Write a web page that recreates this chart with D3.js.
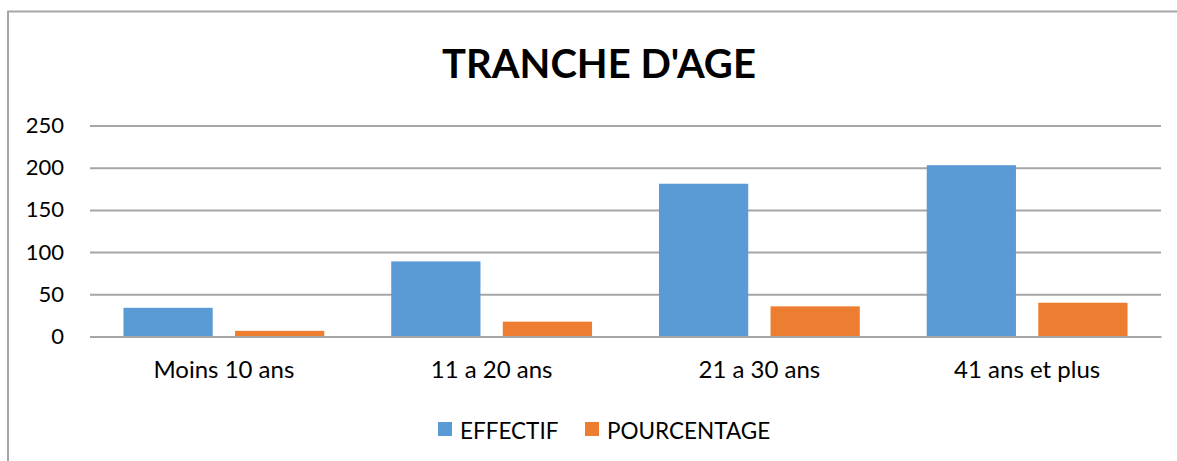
<!DOCTYPE html>
<html>
<head>
<meta charset="utf-8">
<script src="https://cdn.jsdelivr.net/npm/d3@7"></script>
<style>
  body { margin: 0; background: #fff; }
  svg { display: block; font-family: Lato, "Open Sans", sans-serif; }
</style>
</head>
<body>
<div class="app"></div>
<script>
'use strict'

// données
var categories = ["Moins 10 ans", "11 a 20 ans", "21 a 30 ans", "41 ans et plus"];
var seriesNames = ["EFFECTIF", "POURCENTAGE"];
var effectif = [34, 89, 181, 203];
var pourcentage = [6.7, 17.6, 35.7, 40.0];
var yTicks = [0, 50, 100, 150, 200, 250];
var colors = ["#5B9BD5", "#ED7D31"];

var W = 1177, H = 461;
var plot = { left: 90, right: 1161, top: 125.5, bottom: 336.5 };

var rows = categories.map(function(c, i) {
  return { cat: c, values: [effectif[i], pourcentage[i]] };
});

var svg = d3.select(".app").append("svg")
  .attr("width", W)
  .attr("height", H);

// cadre du graphique (haut + gauche)
svg.append("path")
  .attr("d", "M8,461 V11.5 H1177")
  .attr("fill", "none")
  .attr("stroke", "#a6a6a6")
  .attr("stroke-width", 2);

// titre
svg.append("text")
  .attr("x", 599)
  .attr("y", 78)
  .attr("text-anchor", "middle")
  .attr("font-size", 40)
  .attr("font-weight", "bold")
  .attr("fill", "#000")
  .text("TRANCHE D'AGE");

var x0 = d3.scaleBand().domain(categories).range([plot.left, plot.right]).padding(0);
var x1 = d3.scaleBand().domain(d3.range(seriesNames.length))
  .range([0, x0.bandwidth()]).paddingInner(0.2).paddingOuter(0.3);
var y = d3.scaleLinear().domain([0, 250]).range([plot.bottom, plot.top]);

// grille + axe Y
var yAxis = d3.axisLeft(y).tickValues(yTicks).tickSize(0).tickPadding(26);
var gy = svg.append("g")
  .attr("transform", "translate(" + plot.left + ",0)")
  .call(yAxis);
gy.select(".domain").remove();
gy.selectAll(".tick text")
  .attr("font-size", 22)
  .attr("font-family", "Lato, sans-serif")
  .attr("fill", "#000");
gy.selectAll(".tick").append("line")
  .attr("x1", 0)
  .attr("x2", plot.right - plot.left)
  .attr("stroke", "#a6a6a6")
  .attr("stroke-width", 2);

// barres
var groups = svg.append("g").selectAll("g")
  .data(rows)
  .join("g")
  .attr("transform", function(d) { return "translate(" + x0(d.cat) + ",0)"; });

groups.selectAll("rect")
  .data(function(d) { return d.values; })
  .join("rect")
  .attr("x", function(d, i) { return x1(i); })
  .attr("width", x1.bandwidth())
  .attr("y", function(d) { return y(d); })
  .attr("height", function(d) { return y(0) - y(d); })
  .attr("fill", function(d, i) { return colors[i]; });

// axe X
var xAxis = d3.axisBottom(x0).tickSize(0).tickPadding(24);
var gx = svg.append("g")
  .attr("transform", "translate(0," + plot.bottom + ")")
  .call(xAxis);
gx.select(".domain")
  .attr("stroke", "#a6a6a6")
  .attr("stroke-width", 2);
gx.selectAll(".tick text")
  .attr("font-size", 24)
  .attr("font-family", "Lato, sans-serif")
  .attr("fill", "#000");

// légende
var legendPos = [438, 585];
var legend = svg.append("g").selectAll("g")
  .data(seriesNames)
  .join("g")
  .attr("transform", function(d, i) { return "translate(" + legendPos[i] + ",422)"; });
legend.append("rect")
  .attr("width", 14)
  .attr("height", 14)
  .attr("fill", function(d, i) { return colors[i]; });
legend.append("text")
  .attr("x", 22)
  .attr("y", 17)
  .attr("font-size", 22.5)
  .attr("fill", "#000")
  .text(function(d) { return d; });
</script>
</body>
</html>
